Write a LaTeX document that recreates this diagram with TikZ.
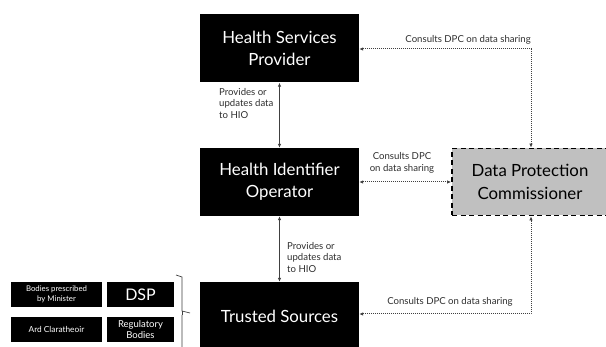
\documentclass[tikz,border=0pt]{standalone}
\usepackage{fontspec}
\setmainfont{Lato}
\usetikzlibrary{arrows.meta}
\definecolor{linegray}{HTML}{404040}
\definecolor{textgray}{HTML}{2E2E2E}
\definecolor{dpcfill}{HTML}{C0C0C0}
\tikzset{
  bigbox/.style={fill=black, text=white, minimum width=159pt, minimum height=68pt,
    inner sep=0pt, align=center, font=\fontsize{16.8}{22.5}\selectfont},
  smallbox/.style={fill=black, text=white, inner sep=0pt, align=center},
  lbl/.style={text=textgray, font=\fontsize{9.6}{11.5}\selectfont, inner sep=0pt},
  solidlink/.style={draw=linegray, line width=0.8pt,
    {Latex[length=4pt,width=3.5pt]}-{Latex[length=4pt,width=3.5pt]}},
  dotlink/.style={draw=linegray, line width=1pt, dash pattern=on 1pt off 1pt,
    {Latex[length=4pt,width=3.5pt]}-{Latex[length=4pt,width=3.5pt]}},
}
\begin{document}
\begin{tikzpicture}[x=1pt,y=-1pt]
\clip (0,0) rectangle (606,347);
\fill[white] (0,0) rectangle (606,347);

% main entities
\node[bigbox] (hsp) at (279.5,48.5) {Health Services\\Provider};
\node[bigbox] (hio) at (279.5,182) {Health Identifier\\Operator};
\node[bigbox, minimum height=68pt] (ts) at (279.5,316) {Trusted Sources};
\node[fill=dpcfill, draw=black, line width=1.8pt, dash pattern=on 5pt off 3.5pt,
  minimum width=156pt, minimum height=67pt, inner sep=0pt, align=center,
  font=\fontsize{16.8}{22.5}\selectfont] (dpc) at (530,182) {Data Protection\\Commissioner};

% data flows to the operator
\draw[solidlink] (hsp.south) -- (hio.north);
\draw[solidlink] (hio.south) -- (ts.north);
\node[lbl, anchor=north west, align=left] (l1) at (219,88) {Provides or\\updates data\\to HIO};
\node[lbl, anchor=north west, align=left] (l2) at (287,242) {Provides or\\updates data\\to HIO};

% consultations with the commissioner
\coordinate (c1) at (531,49);
\coordinate (c2) at (531,314);
\draw[dotlink] (hsp.east |- c1) -- (c1) -- (c1 |- dpc.north);
\draw[dotlink] (hio.east) -- (dpc.west);
\draw[dotlink] (ts.east |- c2) -- (c2) -- (c2 |- dpc.south);
\node[lbl, anchor=base east] (l3) at (531,43) {Consults DPC on data sharing};
\node[lbl, align=center] (l4) at (402,163) {Consults DPC\\on data sharing};
\node[lbl] (l5) at (450,302) {Consults DPC on data sharing};

% trusted source members
\node[smallbox, minimum width=91pt, minimum height=25pt,
  font=\fontsize{7.8}{9.5}\selectfont] (bpm) at (56.5,294.5) {Bodies prescribed\\by Minister};
\node[smallbox, minimum width=67pt, minimum height=25pt,
  font=\fontsize{16}{18}\selectfont] (dsp) at (140.5,294.5) {DSP};
\node[smallbox, minimum width=91pt, minimum height=25pt,
  font=\fontsize{8.3}{9.5}\selectfont] (ard) at (56.5,329.5) {Ard Claratheoir};
\node[smallbox, minimum width=67pt, minimum height=25pt,
  font=\fontsize{9.5}{11}\selectfont] (reg) at (140.5,329.5) {Regulatory\\Bodies};

% brace grouping the members
\draw[linegray, line width=0.7pt] (176,275) -- (182,277) -- (182,311) -- (190,313)
  (182,315) -- (182,352);
\draw[linegray, line width=0.7pt] (182,311) -- (182,315);
\end{tikzpicture}
\end{document}
